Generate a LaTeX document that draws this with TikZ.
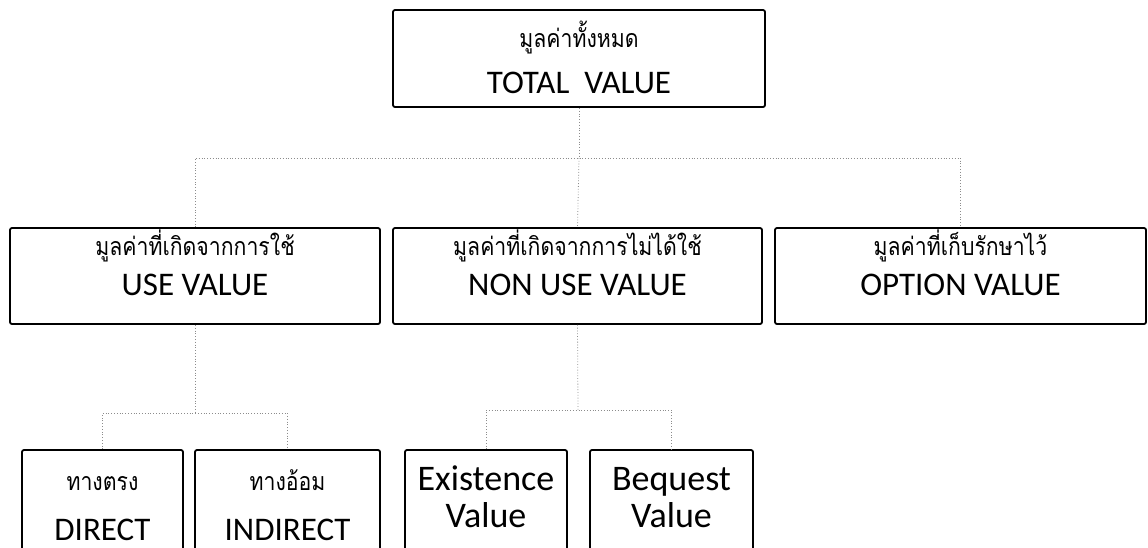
\documentclass[tikz,border=0pt]{standalone}
\usepackage{fontspec}
\setmainfont{Carlito}
\newfontfamily\thai[Script=Thai,FakeStretch=0.85]{Loma}
\begin{document}
\begin{tikzpicture}[x=1pt,y=-1pt,
  box/.style={draw=black,line width=1.8pt,rounded corners=2pt,inner sep=0pt},
  conn/.style={draw=black!45,line width=0.8pt,dotted},
  th/.style={anchor=base,inner sep=0pt,font=\thai\fontsize{25}{25}\selectfont},
  en/.style={anchor=base,inner sep=0pt,font=\fontsize{33}{33}\selectfont},
  enb/.style={anchor=base,inner sep=0pt,font=\fontsize{36}{36}\selectfont}]
\useasboundingbox (0,0) rectangle (1148,547);
\clip (0,0) rectangle (1148,547);
\fill[white] (0,0) rectangle (1148,547);
% boxes
\node[box,minimum width=372pt,minimum height=97pt] (top) at (579,58.5) {};
\node[box,minimum width=370pt,minimum height=96pt] (use) at (195,276) {};
\node[box,minimum width=369pt,minimum height=96pt] (nonuse) at (577.5,276) {};
\node[box,minimum width=371pt,minimum height=96pt] (opt) at (960.5,276) {};
\node[box,minimum width=161pt,minimum height=110pt] (direct) at (102.5,505) {};
\node[box,minimum width=185pt,minimum height=110pt] (indirect) at (287.5,505) {};
\node[box,minimum width=162pt,minimum height=110pt] (exist) at (486,505) {};
\node[box,minimum width=163pt,minimum height=110pt] (bequest) at (671.5,505) {};
% texts
\node[th] (topth) at (579,47) {มูลค่าทั้งหมด};
\node[en] (topen) at (579,93) {TOTAL\ \ VALUE};
\node[th] (useth) at (195,255) {มูลค่าที่เกิดจากการใช้};
\node[en] (useen) at (195,295) {USE VALUE};
\node[th] (nonth) at (577.5,255) {มูลค่าที่เกิดจากการไม่ได้ใช้};
\node[en] (nonen) at (577.5,295) {NON USE VALUE};
\node[th] (optth) at (960.5,255) {มูลค่าที่เก็บรักษาไว้};
\node[en] (opten) at (960.5,295) {OPTION VALUE};
\node[th] (dirth) at (102.5,490) {ทางตรง};
\node[en] (diren) at (102.5,540) {DIRECT};
\node[th] (indth) at (287.5,490) {ทางอ้อม};
\node[en] (inden) at (287.5,540) {INDIRECT};
\node[enb] (ex1) at (486,490) {Existence};
\node[enb] (ex2) at (486,527) {Value};
\node[enb] (bq1) at (671.5,490) {Bequest};
\node[enb] (bq2) at (671.5,527) {Value};
% connectors
\coordinate (bus1) at (579,158);
\coordinate (bus2) at (195,413);
\coordinate (bus3) at (578,410);
\draw[conn] (top.south) -- (bus1);
\draw[conn] (use.north) |- (bus1) -| (opt.north);
\draw[conn] (bus1) -- (nonuse.north);
\draw[conn] (use.south) -- (bus2);
\draw[conn] (direct.north) |- (bus2) -| (indirect.north);
\draw[conn] (nonuse.south) -- (bus3);
\draw[conn] (exist.north) |- (bus3) -| (bequest.north);
\end{tikzpicture}
\end{document}
